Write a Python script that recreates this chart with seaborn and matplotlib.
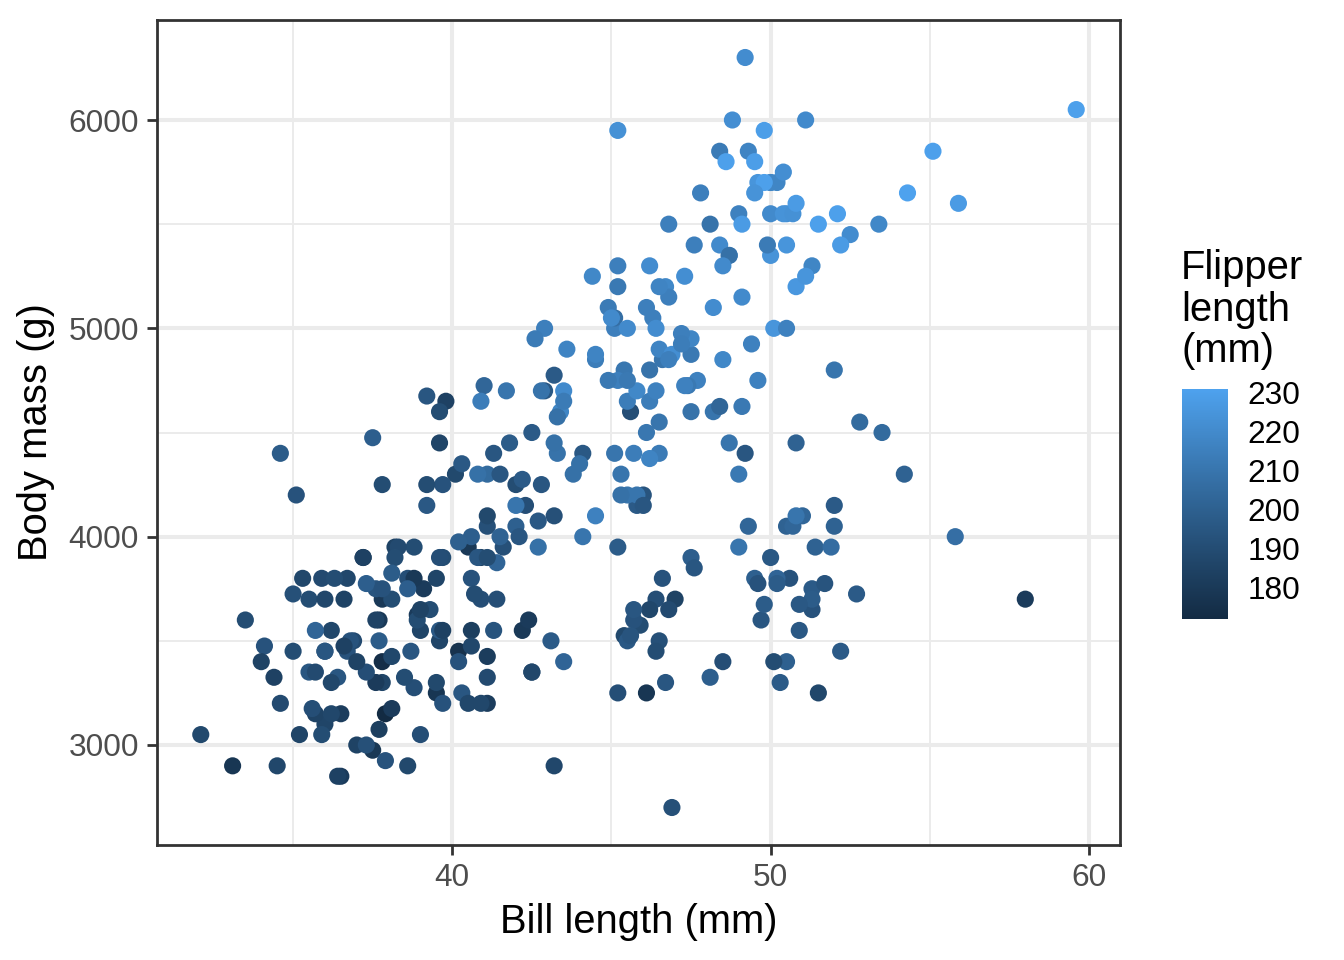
import numpy as np
import pandas as pd
import matplotlib
matplotlib.use("Agg")
import matplotlib.pyplot as plt
import seaborn as sns
from matplotlib.colors import ListedColormap, Normalize
from matplotlib.cm import ScalarMappable

# ---------------- data (Palmer penguins) ----------------
adelie_bill = [39.1,39.5,40.3,36.7,39.3,38.9,39.2,34.1,42.0,37.8,37.8,41.1,38.6,34.6,36.6,38.7,42.5,34.4,46.0,
    37.8,37.7,35.9,38.2,38.8,35.3,40.6,40.5,37.9,40.5,
    39.5,37.2,39.5,40.9,36.4,39.2,38.8,42.2,37.6,39.8,36.5,40.8,36.0,44.1,37.0,39.6,41.1,37.5,36.0,42.3,
    39.6,40.1,35.0,42.0,34.5,41.4,39.0,40.6,36.5,37.6,35.7,41.3,37.6,41.1,36.4,41.6,35.5,41.1,
    35.9,41.8,33.5,39.7,39.6,45.8,35.5,42.8,40.9,37.2,36.2,42.1,34.6,42.9,36.7,35.1,
    37.3,41.3,36.3,36.9,38.3,38.9,35.7,41.1,34.0,39.6,36.2,40.8,38.1,40.3,33.1,43.2,
    35.0,41.0,37.7,37.8,37.9,39.7,38.6,38.2,38.1,43.2,38.1,45.6,39.7,42.2,39.6,42.7,
    38.6,37.3,35.7,41.1,36.2,37.7,40.2,41.4,35.2,40.6,38.8,41.5,39.0,44.1,38.5,43.1,
    36.8,37.5,38.1,41.1,35.6,40.2,37.0,39.7,40.2,40.6,32.1,40.7,37.3,39.0,39.2,36.6,36.0,37.8,36.0,41.5]
adelie_mass = [3750,3800,3250,3450,3650,3625,4675,3475,4250,3300,3700,3200,3800,4400,3700,3450,4500,3325,4200,
    3400,3600,3800,3950,3800,3800,3550,3200,3150,3950,
    3250,3900,3300,3900,3325,4150,3950,3550,3300,4650,3150,3900,3100,4400,3000,4600,3425,2975,3450,4150,
    3500,4300,3450,4050,2900,3700,3550,3800,2850,3750,3150,4400,3600,4050,2850,3950,3350,4100,
    3050,4450,3600,3900,3550,4150,3700,4250,3700,3900,3550,4000,3200,4700,3800,4200,
    3350,3550,3800,3500,3950,3600,3550,4300,3400,4450,3300,4300,3700,4350,2900,4100,
    3725,4725,3075,4250,2925,3550,3750,3900,3175,4775,3825,4600,3200,4275,3900,4075,
    2900,3775,3350,3325,3150,3500,3450,3875,3050,4000,3275,4300,3050,4000,3325,3500,
    3500,4475,3425,3900,3175,3975,3400,4250,3400,3475,3050,3725,3000,3650,4250,3475,3450,3750,3700,4000]
adelie_flipper = [181,186,195,193,190,181,195,193,190,186,180,182,191,198,185,195,197,184,194,
    174,180,189,185,180,187,183,187,172,180,
    178,178,188,184,195,196,190,180,181,184,182,195,186,196,185,190,182,179,190,191,
    186,188,190,200,187,191,186,193,181,194,185,195,185,192,184,192,195,188,
    190,198,190,190,196,197,190,195,191,184,187,195,189,196,187,193,
    191,194,190,189,189,190,202,205,185,186,187,208,190,196,178,192,
    192,203,183,190,193,184,199,190,181,197,198,191,193,197,191,196,
    188,199,189,189,187,198,176,202,186,199,191,195,191,210,190,197,
    193,199,187,190,191,200,185,193,193,187,188,190,192,185,190,184,195,193,187,201]

gentoo_bill = [46.1,50.0,48.7,50.0,47.6,46.5,45.4,46.7,43.3,46.8,
    40.9,49.0,45.5,48.4,45.8,49.3,42.0,49.2,46.2,48.7,
    50.2,45.1,46.5,46.3,42.9,46.1,44.5,47.8,48.2,50.0,
    47.3,42.8,45.1,59.6,49.1,48.4,42.6,44.4,44.0,48.7,
    42.7,49.6,45.3,49.6,50.5,43.6,45.5,50.5,44.9,45.2,
    46.6,48.5,45.1,50.1,46.5,45.0,43.8,45.5,43.2,50.4,
    45.3,46.2,45.7,54.3,45.8,49.8,46.2,49.5,43.5,50.7,
    47.7,46.4,48.2,46.5,46.4,48.6,47.5,51.1,45.2,45.2,
    49.1,52.5,47.4,50.0,44.9,50.8,43.4,51.3,47.5,52.1,
    47.5,52.2,45.5,49.5,44.5,50.8,49.4,46.9,48.4,51.1,
    48.5,55.9,47.2,49.1,47.3,46.8,41.7,53.4,43.3,48.1,
    50.5,49.8,43.5,51.5,46.2,55.1,44.5,48.8,47.2,46.8,
    50.4,45.2,49.9]
gentoo_mass = [4500,5700,4450,5700,5400,4550,4800,5200,4400,5150,
    4650,5550,4650,5850,4200,5850,4150,6300,4800,5350,
    5700,5000,4400,5050,5000,5100,4100,5650,4600,5550,
    5250,4700,5050,6050,5150,5400,4950,5250,4350,5350,
    3950,5700,4300,4750,5550,4900,4200,5400,5100,5300,
    4850,5300,4400,5000,4900,5050,4300,5000,4450,5550,
    4200,5300,4400,5650,4700,5700,4650,5800,4700,5550,
    4750,5000,5100,5200,4700,5800,4600,6000,4750,5950,
    4625,5450,4725,5350,4750,5600,4600,5300,4875,5550,
    4950,5400,4750,5650,4850,5200,4925,4875,4625,5250,
    4850,5600,4975,5500,4725,5500,4700,5500,4575,5500,
    5000,5950,4650,5500,4375,5850,4875,6000,4925,4850,
    5750,5200,5400]
gentoo_flipper = [211,230,210,218,215,210,211,219,209,215,
    214,216,214,213,210,217,210,221,209,222,
    218,215,213,215,215,215,216,215,210,220,
    222,209,207,230,220,220,213,219,208,208,
    208,225,210,216,222,217,210,225,213,215,
    210,220,210,225,217,220,208,220,208,224,
    208,221,214,231,219,230,214,229,220,223,
    216,221,221,217,216,230,209,220,215,223,
    212,221,212,224,212,228,218,218,212,230,
    218,228,212,224,214,226,216,222,203,225,
    219,228,215,228,216,215,210,219,208,209,
    216,229,213,230,217,230,217,222,214,215,
    222,212,213]

chinstrap_bill = [46.5,50.0,51.3,45.4,52.7,45.2,46.1,51.3,46.0,51.3,
    46.6,51.7,47.0,52.0,45.9,50.5,50.3,58.0,46.4,49.2,
    42.4,48.5,43.2,50.6,46.7,52.0,50.5,49.5,46.4,52.8,
    40.9,54.2,42.5,51.0,49.7,47.5,47.6,52.0,46.9,53.5,
    49.0,46.2,50.9,45.5,50.9,50.8,50.1,49.0,51.5,49.8,
    48.1,51.4,45.7,50.7,42.5,52.2,45.2,49.3,50.2,45.6,
    51.9,46.8,45.7,55.8,43.5,49.6,50.8,50.2]
chinstrap_mass = [3500,3900,3650,3525,3725,3950,3250,3750,4150,3700,
    3800,3775,3700,4050,3575,4050,3300,3700,3450,4400,
    3600,3400,2900,3800,3300,4150,3400,3800,3700,4550,
    3200,4300,3350,4100,3600,3900,3850,4800,2700,4500,
    3950,3650,3550,3500,3675,4450,3400,4300,3250,3675,
    3325,3950,3600,4050,3350,3450,3250,4050,3800,3525,
    3950,3650,3650,4000,3400,3775,4100,3775]
chinstrap_flipper = [192,196,193,188,197,198,178,197,195,198,
    193,194,185,201,190,201,197,181,190,195,
    181,191,187,193,195,197,200,200,191,205,
    187,201,187,203,195,199,195,210,192,205,
    210,187,196,196,196,201,190,212,187,198,
    199,201,193,203,187,197,191,203,202,194,
    206,189,195,207,202,193,210,198]

x_ticks = [40, 50, 60]
y_ticks = [3000, 4000, 5000, 6000]
cbar_ticks = [180, 190, 200, 210, 220, 230]

df = pd.DataFrame({
    "bill": adelie_bill + gentoo_bill + chinstrap_bill,
    "mass": adelie_mass + gentoo_mass + chinstrap_mass,
    "flipper": adelie_flipper + gentoo_flipper + chinstrap_flipper,
})

# ---------------- ggplot-like Lab gradient ----------------
def _srgb_to_lin(c):
    return np.where(c <= 0.04045, c / 12.92, ((c + 0.055) / 1.055) ** 2.4)

def _lin_to_srgb(c):
    c = np.clip(c, 0, 1)
    return np.where(c <= 0.0031308, 12.92 * c, 1.055 * c ** (1 / 2.4) - 0.055)

M = np.array([[0.4124564, 0.3575761, 0.1804375],
              [0.2126729, 0.7151522, 0.0721750],
              [0.0193339, 0.1191920, 0.9503041]])
WHITE = np.array([0.95047, 1.0, 1.08883])

def hex_to_lab(h):
    rgb = np.array([int(h[i:i + 2], 16) / 255 for i in (1, 3, 5)])
    xyz = M @ _srgb_to_lin(rgb) / WHITE
    f = np.where(xyz > 216 / 24389, np.cbrt(xyz), (24389 / 27 * xyz + 16) / 116)
    return np.array([116 * f[1] - 16, 500 * (f[0] - f[1]), 200 * (f[1] - f[2])])

def lab_to_rgb(lab):
    L, a, b = lab
    fy = (L + 16) / 116
    fx = fy + a / 500
    fz = fy - b / 200
    f = np.array([fx, fy, fz])
    xyz = np.where(f ** 3 > 216 / 24389, f ** 3, (116 * f - 16) / (24389 / 27)) * WHITE
    return _lin_to_srgb(np.linalg.inv(M) @ xyz)

lab_lo, lab_hi = hex_to_lab("#132B43"), hex_to_lab("#4EA2EE")
cols = [lab_to_rgb(lab_lo + t * (lab_hi - lab_lo)) for t in np.linspace(0, 1, 256)]
cmap = ListedColormap(cols)
vmin, vmax = min(df["flipper"]), max(df["flipper"])
norm = Normalize(vmin=vmin, vmax=vmax)

# ---------------- figure ----------------
sns.set_theme(style="white")
plt.rcParams["font.family"] = ["Liberation Sans", "DejaVu Sans"]

TICK_FS = 11.4
TITLE_FS = 14.4

fig = plt.figure(figsize=(6.72, 4.8), dpi=200)
ax = fig.add_axes([157 / 1344, 1 - 845 / 960, (1120 - 157) / 1344, (845 - 20) / 960])

sns.scatterplot(data=df, x="bill", y="mass", hue="flipper", palette=cmap,
                hue_norm=(vmin, vmax), s=38, linewidth=0, legend=False,
                ax=ax, zorder=3)

xr = max(df["bill"]) - min(df["bill"])
yr = max(df["mass"]) - min(df["mass"])
ax.set_xlim(min(df["bill"]) - 0.05 * xr, max(df["bill"]) + 0.05 * xr)
ax.set_ylim(min(df["mass"]) - 0.05 * yr, max(df["mass"]) + 0.05 * yr)

ax.set_xticks(x_ticks)
ax.set_yticks(y_ticks)
ax.set_xticks([35, 45, 55], minor=True)
ax.set_yticks([3500, 4500, 5500], minor=True)
ax.grid(True, which="major", color="#EBEBEB", linewidth=1.45, zorder=0)
ax.grid(True, which="minor", color="#EBEBEB", linewidth=0.72, zorder=0)
ax.set_axisbelow(True)
for sp in ax.spines.values():
    sp.set_color("#333333")
    sp.set_linewidth(1.0)
    sp.set_visible(True)
ax.tick_params(which="major", direction="out", length=3.6, width=1.0, color="#333333",
               labelsize=TICK_FS, labelcolor="#4D4D4D", pad=2.9,
               bottom=True, left=True)
ax.tick_params(which="minor", length=0)
ax.set_xlabel("Bill length (mm)", fontsize=TITLE_FS, color="black", labelpad=3.5)
ax.set_ylabel("Body mass (g)", fontsize=TITLE_FS, color="black", labelpad=5)

# ---------------- colour bar legend ----------------
cax = fig.add_axes([1182 / 1344, 1 - 619 / 960, 46 / 1344, (619 - 389) / 960])
cb = fig.colorbar(ScalarMappable(norm=norm, cmap=cmap), cax=cax, ticks=cbar_ticks)
cb.outline.set_visible(False)
cax.tick_params(direction="in", length=2.9, width=0.6, color="white",
                left=True, right=True, labelleft=False, labelright=True,
                labelsize=TICK_FS, labelcolor="black", pad=7)
fig.text(1181 / 1344, 1 - 249 / 960, "Flipper\nlength\n(mm)", fontsize=TITLE_FS,
         color="black", ha="left", va="top", linespacing=1.12)

fig.savefig("out.png", dpi=200, facecolor="white")
